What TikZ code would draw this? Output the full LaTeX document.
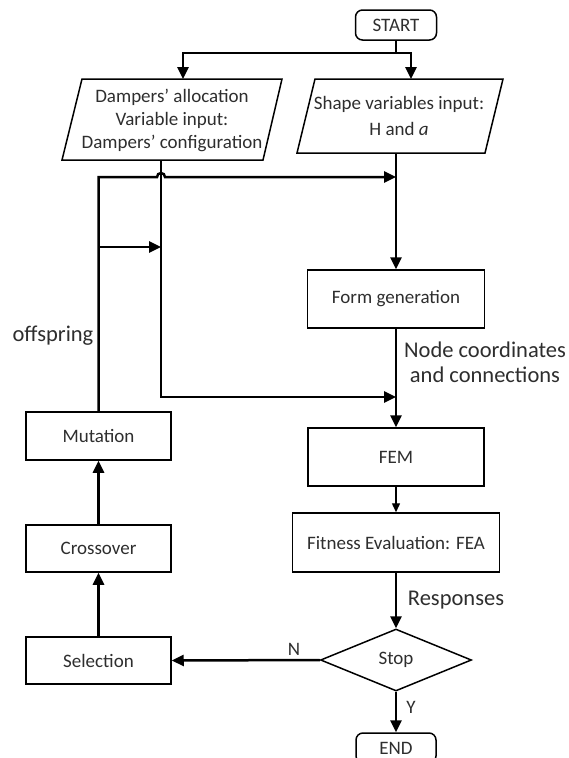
\documentclass[tikz,border=0pt]{standalone}
\usepackage{fontspec}
\setmainfont{Carlito}
\usetikzlibrary{arrows.meta,shapes.geometric}
\definecolor{txt}{gray}{0.18}
\newcommand{\boxfont}{\fontsize{19}{23}\selectfont}
\newcommand{\labfont}{\fontsize{22.5}{25}\selectfont}
\begin{document}
\begin{tikzpicture}[x=1pt,y=-1pt,
  pbox/.style={draw,line width=1.5pt,inner sep=0pt,font=\boxfont,text=txt},
  termbox/.style={pbox,rounded corners=7pt},
  wire/.style={line width=2.5pt},
  conn/.style={wire,-{Triangle[length=12pt,width=11pt]}},
  thinconn/.style={line width=1.4pt,-{Triangle[length=9pt,width=8pt]}},
  lab/.style={font=\labfont,text=txt,inner sep=0pt},
  slab/.style={font=\boxfont,text=txt,inner sep=0pt}]
\useasboundingbox (0,0) rectangle (568,758);
\fill[white] (0,0) rectangle (568,758);

% terminals and process boxes
\node[termbox,minimum width=81pt,minimum height=30pt] (start) at (396,25) {START};
\node[pbox,minimum width=177pt,minimum height=58pt] (formgen) at (396,299) {Form generation};
\node[pbox,minimum width=176pt,minimum height=58pt] (fem) at (396,457) {FEM};
\node[pbox,minimum width=207pt,minimum height=59pt] (fit) at (396,542.5) {Fitness Evaluation: FEA};
\node[pbox,diamond,aspect=2.4,minimum width=151pt,minimum height=62pt] (stop) at (396,660) {Stop};
\node[termbox,minimum width=80pt,minimum height=30pt] (finish) at (396,748) {END};
\node[pbox,minimum width=145pt,minimum height=48pt] (mut) at (98.5,436) {Mutation};
\node[pbox,minimum width=145pt,minimum height=47pt] (cross) at (98.5,548.5) {Crossover};
\node[pbox,minimum width=145pt,minimum height=47pt] (sel) at (98.5,660.5) {Selection};

% input parallelograms
\draw[line width=1.5pt,line join=miter] (82,79) -- (282,79) -- (263,160) -- (62,160) -- cycle;
\node[slab,align=center] (dampin) at (172,120) {Dampers' allocation\\Variable input:\\Dampers' configuration};
\draw[line width=1.5pt,line join=miter] (315,79) -- (503,79) -- (485,153) -- (297,153) -- cycle;
\node[slab,align=center,font=\fontsize{19}{26}\selectfont] (shapein) at (399,116) {Shape variables input:\\H and \textit{a}};

\coordinate (inL) at (183,79);
\coordinate (inR) at (411,79);
\coordinate (jl) at (183,53);
\coordinate (jr) at (411,53);
\coordinate (outL) at (161,160);
\coordinate (outR) at (396,153);
\coordinate (m1) at (396,177);
\coordinate (m2) at (396,397);
\coordinate (b1) at (98,247);
\coordinate (b2) at (161,247);

% connectors
\draw[wire] (start.south) -- (start.south |- jl);
\draw[conn] (start.south |- jl) -- (jl) -- (inL);
\draw[conn] (start.south |- jl) -- (jr) -- (inR);
\draw[conn] (outR) -- (formgen.north);
\draw[conn] (outL) |- (m2);
\draw[conn] (mut.north) |- (157,177) arc[start angle=180,end angle=360,radius=4] -- (m1);
\draw[conn] (b1) -- (b2);
\draw[conn] (formgen.south) -- (fem.north);
\draw[thinconn] (fem.south) -- (fit.north);
\draw[conn] (fit.south) -- (stop.north);
\draw[conn] (stop.west) -- (sel.east);
\draw[conn] (stop.south) -- (finish.north);
\draw[conn] (sel.north) -- (cross.south);
\draw[conn] (cross.north) -- (mut.south);

% labels
\node[lab,align=center] (nodelab) at (485,362) {Node coordinates\\and connections};
\node[lab] (resp) at (456,600) {Responses};
\node[lab] (offs) at (53,336) {offspring};
\node[slab] (nlab) at (294,649) {N};
\node[slab] (ylab) at (411,707) {Y};
\end{tikzpicture}
\end{document}
